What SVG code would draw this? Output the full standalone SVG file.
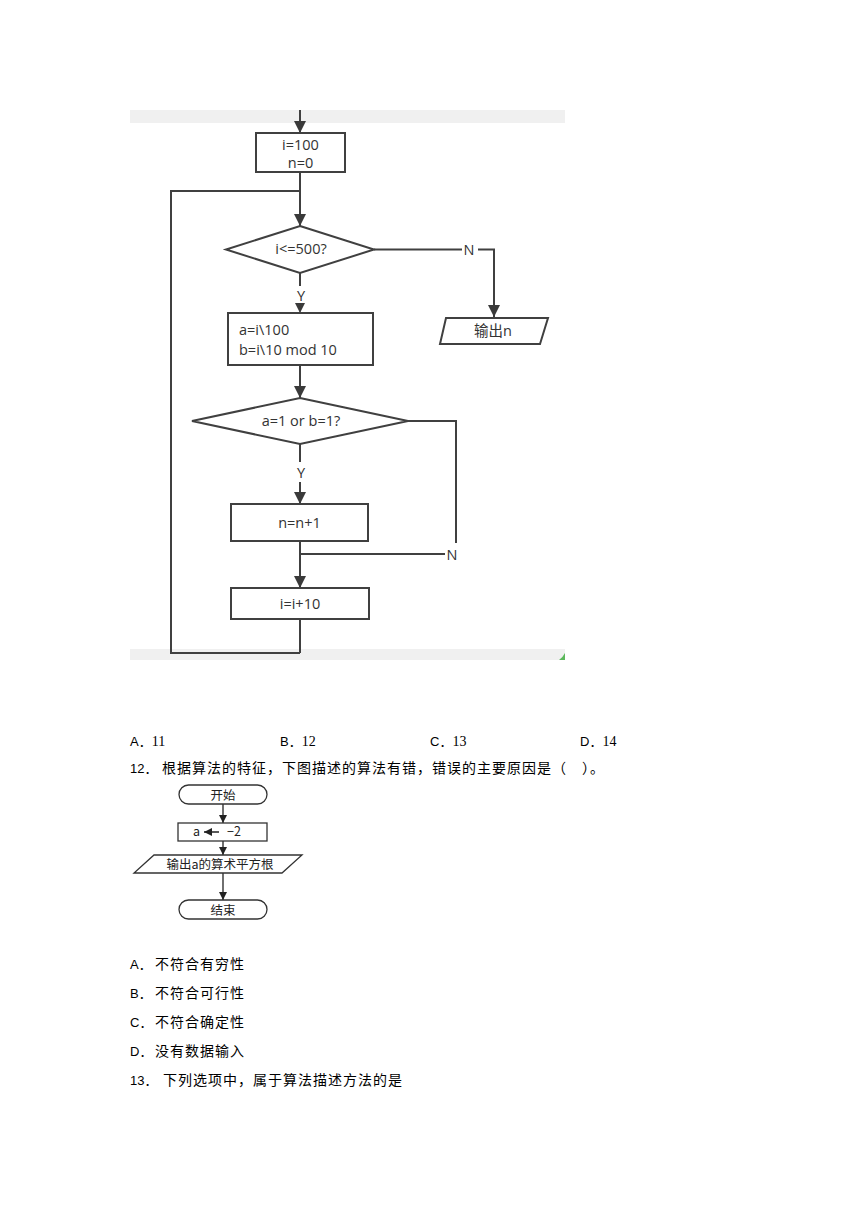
<svg xmlns="http://www.w3.org/2000/svg" width="860" height="1216" viewBox="0 0 860 1216">
<defs>
<marker id="ah" viewBox="0 0 10 10" refX="10" refY="5" markerWidth="10" markerHeight="10" markerUnits="userSpaceOnUse" orient="auto"><path d="M0,0 L10,5 L0,10 z" fill="#3a3a3a"/></marker>
<marker id="ahBig" viewBox="0 0 10 10" refX="10" refY="5" markerWidth="17" markerHeight="12" markerUnits="userSpaceOnUse" orient="auto"><path d="M0,0 L10,5 L0,10 z" fill="#3a3a3a"/></marker>
<marker id="ahS" viewBox="0 0 10 10" refX="10" refY="5" markerWidth="8" markerHeight="8" markerUnits="userSpaceOnUse" orient="auto"><path d="M0,0 L10,5 L0,10 z" fill="#222"/></marker>
</defs>
<style>
.shape{fill:#fff;stroke:#404040;stroke-width:2}
.ln{fill:none;stroke:#404040;stroke-width:2}
.ft{font-family:"Open Sans","Noto Sans","Noto Sans CJK SC",sans-serif;font-size:14.5px;fill:#333}
.sm{fill:#fff;stroke:#333;stroke-width:1.3}
.sl{fill:none;stroke:#222;stroke-width:1.3}
.st{font-family:"Noto Sans CJK SC",sans-serif;font-size:12.5px;fill:#222}
.q{font-family:"Liberation Serif","Noto Sans CJK SC",serif;font-size:14px;fill:#000}
.qs{font-family:"Liberation Sans","Noto Sans CJK SC",sans-serif;font-size:13px;fill:#000}
.cj{font-family:"Noto Sans CJK SC",sans-serif;font-size:14px;letter-spacing:1px}
</style>
<rect width="860" height="1216" fill="#fff"/>
<rect x="130" y="110" width="435" height="13" fill="#f0f0f0"/>
<rect x="130" y="649" width="435" height="11" fill="#f0f0f0"/>
<path d="M559,660 Q563,657 565,653 L565,660 z" fill="#5cb85c"/>

<g id="connectors">
<line class="ln" x1="300" y1="110" x2="300" y2="133" marker-end="url(#ahBig)"/>
<line class="ln" x1="300" y1="172" x2="300" y2="226" marker-end="url(#ahBig)"/>
<polyline class="ln" points="300,653 300,619"/>
<polyline class="ln" points="300,653 171,653 171,191 300,191"/>
<polyline class="ln" points="374,249.5 462,249.5"/>
<polyline class="ln" points="478,249.5 494,249.5 494,317" marker-end="url(#ahBig)"/>
<text class="ft" x="469" y="255" text-anchor="middle">N</text>
<line class="ln" x1="300" y1="273" x2="300" y2="286"/>
<text class="ft" x="301" y="301" text-anchor="middle" font-size="13">Y</text>
<line x1="300" y1="303" x2="300" y2="313" stroke="#404040" stroke-width="1" marker-end="url(#ah)"/>
<line class="ln" x1="300" y1="365" x2="300" y2="398" marker-end="url(#ahBig)"/>
<polyline class="ln" points="408,421 456,421 456,543"/>
<text class="ft" x="452" y="560" text-anchor="middle">N</text>
<line class="ln" x1="445" y1="554" x2="300" y2="554"/>
<line class="ln" x1="300" y1="444" x2="300" y2="462"/>
<text class="ft" x="301" y="478" text-anchor="middle" font-size="13">Y</text>
<line class="ln" x1="300" y1="482" x2="300" y2="504" marker-end="url(#ahBig)"/>
<line class="ln" x1="300" y1="541" x2="300" y2="588" marker-end="url(#ahBig)"/>
</g>

<g id="init">
<rect class="shape" x="256" y="133" width="89" height="39"/>
<text class="ft" x="300.5" y="150" text-anchor="middle">i=100</text>
<text class="ft" x="300.5" y="168" text-anchor="middle">n=0</text>
</g>
<g id="cond1">
<polygon class="shape" points="300,226 374,249.5 300,273 226,249.5"/>
<text class="ft" x="301" y="254" text-anchor="middle">i&lt;=500?</text>
</g>
<g id="output">
<polygon class="shape" points="446,318 548,318 540,344 440,344"/>
<text class="ft" x="493" y="336" text-anchor="middle" font-size="13.5">输出n</text>
</g>
<g id="calc">
<rect class="shape" x="228" y="313" width="145" height="52"/>
<text class="ft" x="239" y="335">a=i\100</text>
<text class="ft" x="239" y="355">b=i\10 mod 10</text>
</g>
<g id="cond2">
<polygon class="shape" points="300,398 408,421 300,444 192,421"/>
<text class="ft" x="301" y="426" text-anchor="middle">a=1 or b=1?</text>
</g>
<g id="inc-n">
<rect class="shape" x="231" y="504" width="137" height="37"/>
<text class="ft" x="299.5" y="528" text-anchor="middle">n=n+1</text>
</g>
<g id="inc-i">
<rect class="shape" x="231" y="588" width="138" height="31"/>
<text class="ft" x="300" y="609" text-anchor="middle">i=i+10</text>
</g>

<g id="options11">
<text class="qs" x="130" y="746">A．<tspan class="q">11</tspan></text>
<text class="qs" x="280" y="746">B．<tspan class="q">12</tspan></text>
<text class="qs" x="430" y="746">C．<tspan class="q">13</tspan></text>
<text class="qs" x="580" y="746">D．<tspan class="q">14</tspan></text>
</g>
<text class="qs" x="130" y="773" font-size="14">12．<tspan class="cj" x="162">根据算法的特征，下图描述的算法有错，错误的主要原因是（　）。</tspan></text>

<g id="small-connectors">
<line class="sl" x1="223" y1="804" x2="223" y2="823" marker-end="url(#ahS)"/>
<line class="sl" x1="223" y1="841" x2="223" y2="855" marker-end="url(#ahS)"/>
<line class="sl" x1="223" y1="873" x2="223" y2="900" marker-end="url(#ahS)"/>
</g>
<g id="start">
<rect class="sm" x="179" y="785" width="88" height="19" rx="9.5"/>
<text class="st" x="223" y="799.5" text-anchor="middle" font-size="13">开始</text>
</g>
<g id="assign">
<rect class="sm" x="178" y="823" width="89" height="18"/>
<text class="st" x="193" y="836">a</text>
<line x1="219" y1="832" x2="204" y2="832" stroke="#222" stroke-width="1.5" marker-end="url(#ahS)"/>
<text class="st" x="227" y="836">−2</text>
</g>
<g id="out2">
<polygon class="sm" points="154,855 302,855 282,873 134,873"/>
<text class="st" x="220" y="868.5" text-anchor="middle" font-size="13">输出a的算术平方根</text>
</g>
<g id="end">
<rect class="sm" x="179" y="900" width="88" height="19" rx="9.5"/>
<text class="st" x="223" y="914.5" text-anchor="middle" font-size="13">结束</text>
</g>

<g id="options12">
<text class="qs" x="130" y="969">A．<tspan class="cj" x="155">不符合有穷性</tspan></text>
<text class="qs" x="130" y="998">B．<tspan class="cj" x="155">不符合可行性</tspan></text>
<text class="qs" x="130" y="1027">C．<tspan class="cj" x="155">不符合确定性</tspan></text>
<text class="qs" x="130" y="1056">D．<tspan class="cj" x="155">没有数据输入</tspan></text>
<text class="qs" x="130" y="1085" font-size="14">13．<tspan class="cj" x="163">下列选项中，属于算法描述方法的是</tspan></text>
</g>
</svg>
